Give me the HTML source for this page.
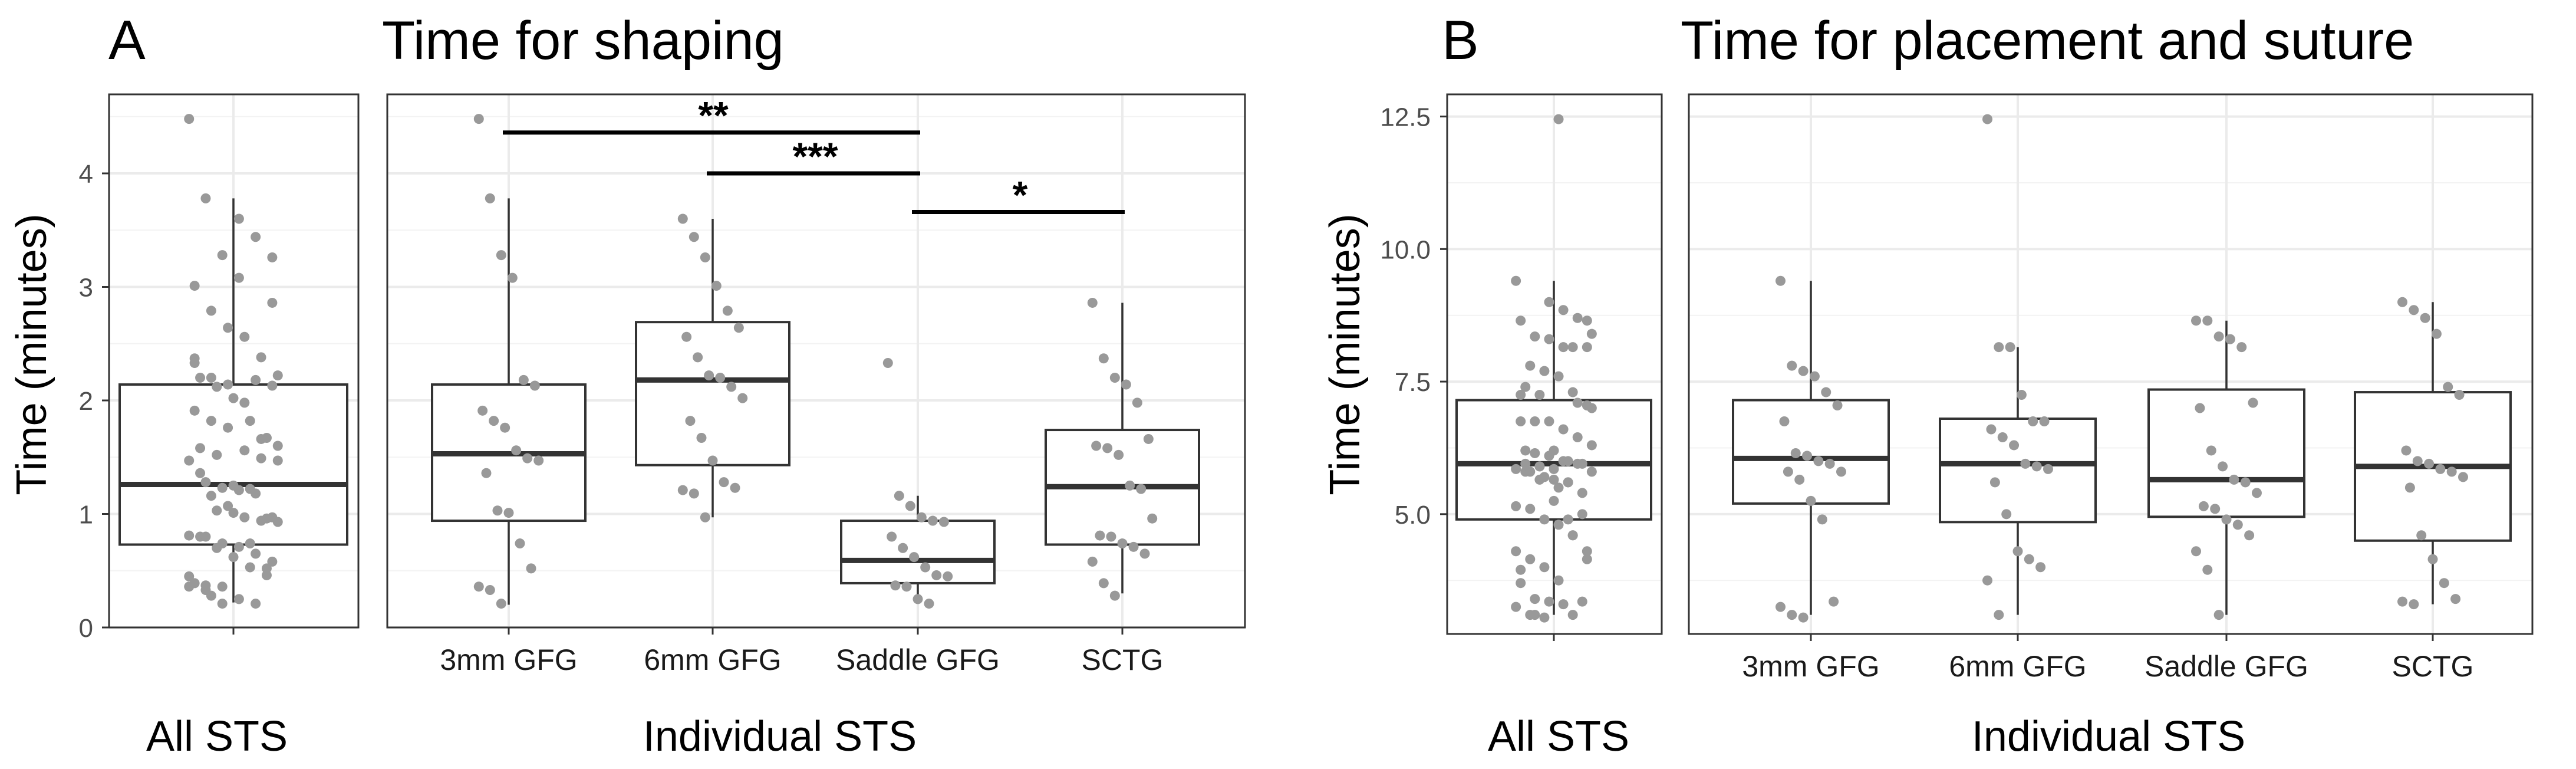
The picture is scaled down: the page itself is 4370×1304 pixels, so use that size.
<!DOCTYPE html>
<html><head><meta charset="utf-8">
<style>
html,body{margin:0;padding:0;background:#fff;}
svg{display:block;font-family:"Liberation Sans",Arial,sans-serif;}
</style></head>
<body>
<svg id="fig" width="4370" height="1304" viewBox="0 0 4370 1304" xmlns="http://www.w3.org/2000/svg"></svg>
<script>
// ---------- data ----------
const categories = ["3mm GFG","6mm GFG","Saddle GFG","SCTG"];
// Panel A box stats [lo, q1, med, q3, hi]
const shapeAllBox = [0.22,0.73,1.26,2.14,3.78];
const shapeBoxes = [[0.2,0.94,1.53,2.14,3.78],[0.97,1.43,2.18,2.69,3.6],[0.22,0.39,0.59,0.94,1.16],[0.3,0.73,1.24,1.74,2.86]];
const shape3mm = [4.48,3.78,3.28,3.08,2.18,2.13,1.91,1.82,1.76,1.56,1.49,1.47,1.36,1.03,1.01,0.74,0.52,0.36,0.33,0.21];
const shape6mm = [3.6,3.44,3.26,3.01,2.79,2.64,2.56,2.38,2.22,2.2,2.12,2.02,1.82,1.67,1.47,1.28,1.23,1.21,1.18,0.97];
const shapeSaddle = [2.33,1.16,1.07,0.97,0.94,0.93,0.8,0.7,0.62,0.53,0.46,0.45,0.37,0.36,0.25,0.21];
const shapeSCTG = [2.86,2.37,2.2,2.14,1.98,1.66,1.6,1.58,1.52,1.25,1.22,0.96,0.81,0.8,0.74,0.71,0.65,0.58,0.39,0.28];
const shapeTicks = [0,1,2,3,4];
const shapeTickLabels = ["0","1","2","3","4"];
// Panel B
const placeAllBox = [3.1,4.9,5.95,7.15,9.4];
const placeBoxes = [[3.1,5.2,6.05,7.15,9.4],[3.1,4.85,5.95,6.8,8.15],[3.1,4.95,5.65,7.35,8.65],[3.3,4.5,5.9,7.3,9.0]];
const place3mm = [9.4,7.8,7.7,7.6,7.3,7.05,6.75,6.15,6.1,6.0,5.95,5.8,5.8,5.65,5.25,4.9,3.35,3.25,3.1,3.05];
const place6mm = [12.45,8.15,8.15,7.25,6.75,6.75,6.6,6.45,6.3,5.95,5.9,5.85,5.6,5.0,4.3,4.15,4.0,3.75,3.1];
const placeSaddle = [8.65,8.65,8.35,8.3,8.15,7.1,7.0,6.2,5.9,5.65,5.6,5.4,5.15,5.1,4.9,4.8,4.6,4.3,3.95,3.1];
const placeSCTG = [9.0,8.85,8.7,8.4,7.4,7.25,6.2,6.0,5.95,5.85,5.8,5.7,5.5,4.6,4.15,3.7,3.4,3.35,3.3];
const placeTicks = [5,7.5,10,12.5];
const placeTickLabels = ["5.0","7.5","10.0","12.5"];
// significance brackets: [fromCat, toCat, value, label]
const sigFrom = [0,1,2];
const sigTo = [2,2,3];
const sigY = [4.36,4.0,3.66];
const sigLabels = ["**","***","*"];

// ---------- drawing ----------
const svg = document.getElementById('fig');
const NS = "http://www.w3.org/2000/svg";
function mk(tag, attrs, parent){
  const e = document.createElementNS(NS, tag);
  for (const k in attrs) e.setAttribute(k, attrs[k]);
  (parent||svg).appendChild(e);
  return e;
}
function txt(s, attrs, parent){ const e = mk('text', attrs, parent); e.textContent = s; return e; }
function jit(i){ return (((i*37)%17)/16 - 0.5); }

function panel(cfg){
  const g = mk('g', {});
  
  
  const y = v => cfg.y0 - (v - cfg.vmin) * cfg.unit;
  const panes = [{x0:cfg.sx0,x1:cfg.sx1,cats:[cfg.allCx]},{x0:cfg.bx0,x1:cfg.bx1,cats:cfg.catX}];
  panes.forEach(p=>{
    for (let i=0;i<cfg.ticks.length+1;i++){
      const step = cfg.ticks[1]-cfg.ticks[0];
      const mv = cfg.ticks[0] - step/2 + i*step;
      const yy = y(mv);
      if (yy>cfg.top && yy<cfg.y0){
        const l = mk('line',{x1:p.x0,x2:p.x1,y1:yy,y2:yy,stroke:'#f3f3f3','stroke-width':2},g);
         
      }
    }
    cfg.ticks.forEach(t=>{
      const l = mk('line',{x1:p.x0,x2:p.x1,y1:y(t),y2:y(t),stroke:'#ebebeb','stroke-width':4},g);
       
    });
    p.cats.forEach(cx=>{
      const l = mk('line',{x1:cx,x2:cx,y1:cfg.top,y2:cfg.y0,stroke:'#ebebeb','stroke-width':4},g);
       
      const tk = mk('line',{x1:cx,x2:cx,y1:cfg.y0,y2:cfg.y0+12,stroke:'#333','stroke-width':3},g);
       
    });
  });
  cfg.ticks.forEach((t,i)=>{
    const tk = mk('line',{x1:cfg.sx0-12,x2:cfg.sx0,y1:y(t),y2:y(t),stroke:'#333','stroke-width':3},g);
     
    const lb = txt(cfg.tickLabels[i],{x:cfg.labelRight,y:y(t)+16,'text-anchor':'end','font-size':44,fill:'#4d4d4d'},g);
     
  });
  function box(cx, st, hw, pts, nm){
    const bg = mk('g',{},g);
     
    const w1 = mk('line',{x1:cx,x2:cx,y1:y(st[3]),y2:y(st[4]),stroke:'#333','stroke-width':3.5},bg);
     
    const w2 = mk('line',{x1:cx,x2:cx,y1:y(st[1]),y2:y(st[0]),stroke:'#333','stroke-width':3.5},bg);
     
    const r = mk('rect',{x:cx-hw,y:y(st[3]),width:2*hw,height:y(st[1])-y(st[3]),fill:'#fff',stroke:'#333','stroke-width':4},bg);
     
    const m = mk('line',{x1:cx-hw,x2:cx+hw,y1:y(st[2]),y2:y(st[2]),stroke:'#333','stroke-width':9},bg);
     
    pts.forEach((v,i)=>{
      const c = mk('circle',{cx:cx + jit(i)*hw*0.78, cy:y(v), r:8.5, fill:'#999'},bg);
       
    });
  }
  const all = [].concat(...cfg.series);
  box(cfg.allCx, cfg.allBox, cfg.allHw, all, 'box-all-sts');
  cfg.catX.forEach((cx,i)=>box(cx, cfg.boxes[i], cfg.hw, cfg.series[i], 'box-'+categories[i].toLowerCase().replace(/\s+/g,'-')));
  panes.forEach(p=>{
    const b = mk('rect',{x:p.x0,y:cfg.top,width:p.x1-p.x0,height:cfg.y0-cfg.top,fill:'none',stroke:'#333','stroke-width':3},g);
     
  });
  cfg.catX.forEach((cx,i)=>{
    const lb = txt(categories[i],{x:cx,y:cfg.y0+72,'text-anchor':'middle','font-size':50,fill:'#1a1a1a'},g);
     
  });
  return y;
}

const catXA = [863,1209,1557,1904];
const yA = panel({name:'panel-a-plot', sx0:185, sx1:608, bx0:657, bx1:2112, top:160, y0:1064, vmin:0, unit:192.5,
  ticks:shapeTicks, tickLabels:shapeTickLabels, labelRight:158, allCx:396, allHw:193, catX:catXA, hw:130,
  allBox:shapeAllBox, boxes:shapeBoxes, series:[shape3mm,shape6mm,shapeSaddle,shapeSCTG]});
const yB = panel({name:'panel-b-plot', sx0:2455, sx1:2819, bx0:2865, bx1:4296, top:160, y0:1075, vmin:2.74, unit:89.9,
  ticks:placeTicks, tickLabels:placeTickLabels, labelRight:2427, allCx:2636, allHw:165, catX:[3072,3423,3777,4127], hw:132,
  allBox:placeAllBox, boxes:placeBoxes, series:[place3mm,place6mm,placeSaddle,placeSCTG]});

sigLabels.forEach((s,i)=>{
  const yy = yA(sigY[i]);
  const l = mk('line',{x1:catXA[sigFrom[i]]-10,x2:catXA[sigTo[i]]+4,y1:yy,y2:yy,stroke:'#000','stroke-width':7});
   
  const t = txt(s,{x:(catXA[sigFrom[i]]+catXA[sigTo[i]])/2,y:yy-6,'text-anchor':'middle','font-size':66,'font-weight':'bold',fill:'#000'});
   
});

function label(s,x,y,size,name,extra){
  const a = Object.assign({x:x,y:y,'font-size':size,fill:'#000'}, extra||{});
  const t = txt(s,a);
   
  return t;
}
label('A',184,100,94,'panel-a-letter');
label('Time for shaping',648,100,92,'panel-a-title');
label('B',2446,100,94,'panel-b-letter');
label('Time for placement and suture',2851,100,92,'panel-b-title');
label('All STS',368,1273,72,'panel-a-all-sts-label',{'text-anchor':'middle'});
label('Individual STS',1323,1273,72,'panel-a-individual-sts-label',{'text-anchor':'middle'});
label('All STS',2644,1273,72,'panel-b-all-sts-label',{'text-anchor':'middle'});
label('Individual STS',3577,1273,72,'panel-b-individual-sts-label',{'text-anchor':'middle'});
label('Time (minutes)',0,0,72,'panel-a-y-axis-title',{'text-anchor':'middle',transform:'translate(78,601) rotate(-90)'});
label('Time (minutes)',0,0,72,'panel-b-y-axis-title',{'text-anchor':'middle',transform:'translate(2306,601) rotate(-90)'});
</script>
</body></html>
